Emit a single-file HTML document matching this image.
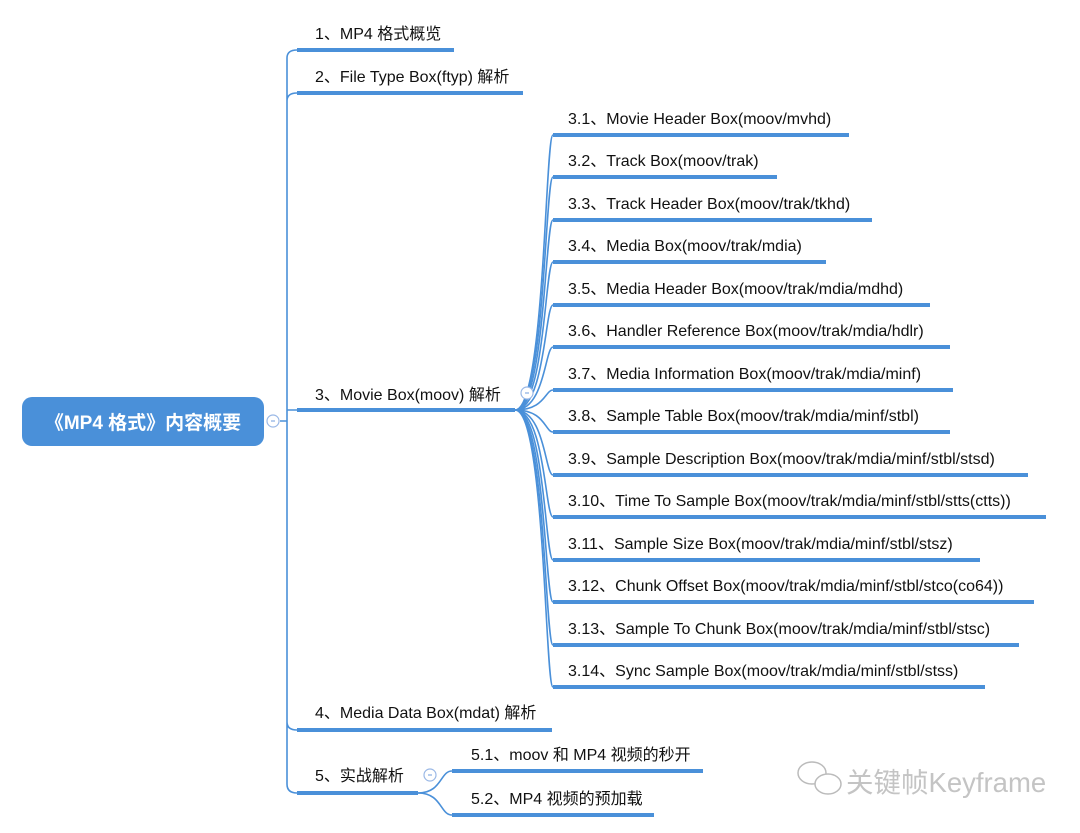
<!DOCTYPE html>
<html><head><meta charset="utf-8"><style>
html,body{margin:0;padding:0;background:#fff;}
svg{display:block;}
text{font-family:"Liberation Sans","Noto Sans CJK SC",sans-serif;font-size:16px;fill:#111;}
</style></head><body>
<svg width="1080" height="833" viewBox="0 0 1080 833" xmlns="http://www.w3.org/2000/svg">
<rect x="22" y="397" width="242" height="49" rx="10" fill="#4a90d9"/>
<text x="143" y="429" text-anchor="middle" style="font-size:19px;font-weight:bold;fill:#fff">《MP4 格式》内容概要</text>
<g fill="none" stroke="#4a90d9" stroke-width="1.6">
<path d="M280 421 H287 M287 58 V784 M287 58 Q287 50 297 50 M287 101 Q287 93 297 93 M287 410 L297 410 M287 722 Q287 730 297 730 M287 784 Q287 793 297 793"/>
<circle cx="273" cy="421" r="6" stroke="#9ab8e6" fill="#fff" stroke-width="1.2"/>
<path d="M515 410 C545 410 545 135 553 135"/><path d="M515 410 C545 410 545 177 553 177"/><path d="M515 410 C545 410 545 220 553 220"/><path d="M515 410 C545 410 545 262 553 262"/><path d="M515 410 C545 410 545 305 553 305"/><path d="M515 410 C545 410 545 347 553 347"/><path d="M515 410 C545 410 545 390 553 390"/><path d="M515 410 C545 410 545 432 553 432"/><path d="M515 410 C545 410 545 475 553 475"/><path d="M515 410 C545 410 545 517 553 517"/><path d="M515 410 C545 410 545 560 553 560"/><path d="M515 410 C545 410 545 602 553 602"/><path d="M515 410 C545 410 545 645 553 645"/><path d="M515 410 C545 410 545 687 553 687"/>
<circle cx="527" cy="393" r="6" stroke="#9ab8e6" fill="#fff" stroke-width="1.2"/>
<path d="M418 793 C442 793 440 771 452 771"/><path d="M418 793 C442 793 440 815 452 815"/>
<circle cx="430" cy="775" r="6" stroke="#9ab8e6" fill="#fff" stroke-width="1.2"/>
</g>
<g fill="#9ab8e6"><rect x="525" y="392.3" width="4" height="1.4"/><rect x="271" y="420.3" width="4" height="1.4"/><rect x="428" y="774.3" width="4" height="1.4"/></g>
<g stroke="#4a90d9" stroke-width="4">
<path d="M297 50H454 M297 93H523 M297 410H515 M297 730H552 M297 793H418"/>
<path d="M553 135H849 M553 177H777 M553 220H872 M553 262H826 M553 305H930 M553 347H950 M553 390H953 M553 432H950 M553 475H1028 M553 517H1046 M553 560H980 M553 602H1034 M553 645H1019 M553 687H985"/>
<path d="M452 771H703 M452 815H654"/>
</g>
<text x="315" y="39">1、MP4 格式概览</text>
<text x="315" y="82">2、File Type Box(ftyp) 解析</text>
<text x="315" y="400">3、Movie Box(moov) 解析</text>
<text x="315" y="718">4、Media Data Box(mdat) 解析</text>
<text x="315" y="781">5、实战解析</text>
<text x="568" y="124">3.1、Movie Header Box(moov/mvhd)</text>
<text x="568" y="166">3.2、Track Box(moov/trak)</text>
<text x="568" y="209">3.3、Track Header Box(moov/trak/tkhd)</text>
<text x="568" y="251">3.4、Media Box(moov/trak/mdia)</text>
<text x="568" y="294">3.5、Media Header Box(moov/trak/mdia/mdhd)</text>
<text x="568" y="336">3.6、Handler Reference Box(moov/trak/mdia/hdlr)</text>
<text x="568" y="379">3.7、Media Information Box(moov/trak/mdia/minf)</text>
<text x="568" y="421">3.8、Sample Table Box(moov/trak/mdia/minf/stbl)</text>
<text x="568" y="464">3.9、Sample Description Box(moov/trak/mdia/minf/stbl/stsd)</text>
<text x="568" y="506">3.10、Time To Sample Box(moov/trak/mdia/minf/stbl/stts(ctts))</text>
<text x="568" y="549">3.11、Sample Size Box(moov/trak/mdia/minf/stbl/stsz)</text>
<text x="568" y="591">3.12、Chunk Offset Box(moov/trak/mdia/minf/stbl/stco(co64))</text>
<text x="568" y="634">3.13、Sample To Chunk Box(moov/trak/mdia/minf/stbl/stsc)</text>
<text x="568" y="676">3.14、Sync Sample Box(moov/trak/mdia/minf/stbl/stss)</text>
<text x="471" y="760">5.1、moov 和 MP4 视频的秒开</text>
<text x="471" y="804">5.2、MP4 视频的预加载</text>
<g fill="none" stroke="#bbb" stroke-width="1.5">
<ellipse cx="812" cy="773" rx="14" ry="11"/><ellipse cx="828" cy="784" rx="13" ry="10" fill="#fff"/>
</g>
<text x="846" y="792" style="font-size:27.5px;fill:#c4c4c4">关键帧Keyframe</text>
</svg>
</body></html>
